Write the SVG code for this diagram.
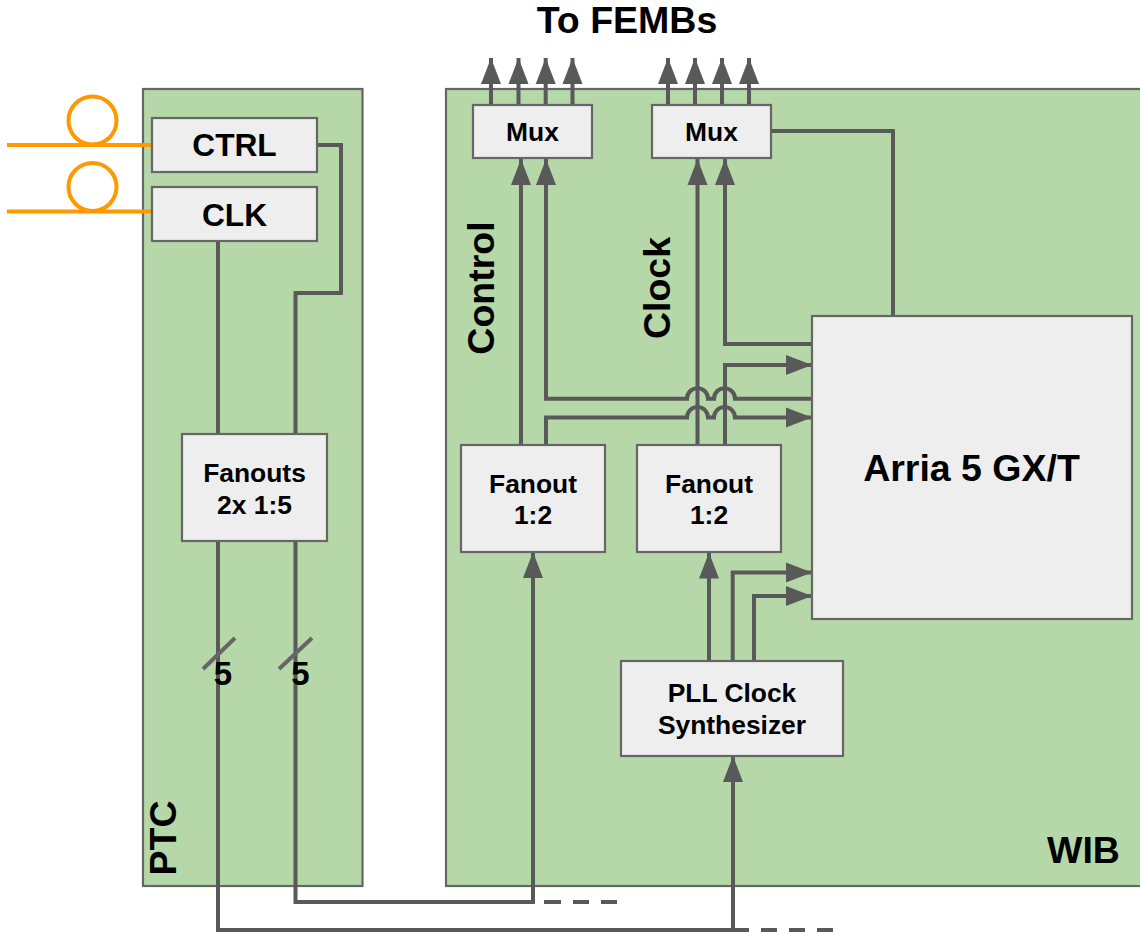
<svg xmlns="http://www.w3.org/2000/svg" width="1140" height="933" viewBox="0 0 1140 933">
<style>
text{font-family:"Liberation Sans",Arial,sans-serif;font-weight:700;fill:#000;text-anchor:middle}
.panel{fill:#b6d7a8;stroke:#666;stroke-width:2.2}
.box{fill:#eee;stroke:#666;stroke-width:2.2}
.w{fill:none;stroke:#595959;stroke-width:4}
.s{fill:none;stroke:#666;stroke-width:4}
.f{fill:none;stroke:#f90;stroke-width:4}
.t26{font-size:26.4px}.t31{font-size:31.7px}.t36{font-size:37.5px}.t33{font-size:33px}
</style>
<defs>
<marker id="a" markerUnits="userSpaceOnUse" markerWidth="28" markerHeight="22" refX="26" refY="11" orient="auto"><path d="M0 1L26 11L0 21Z" fill="#595959"/></marker>
</defs>
<g id="panel-ptc"><rect class="panel" x="143" y="89" width="219.500" height="797"/><text class="t36" transform="translate(176 838) rotate(-90)">PTC</text></g>
<g id="panel-wib"><rect class="panel" x="446" y="89" width="700" height="797"/><text class="t36" x="1083.500" y="863">WIB</text></g>
<text id="title" class="t36" x="627" y="33">To FEMBs</text>
<text id="label-control" class="t36" transform="translate(494 288) rotate(-90)">Control</text>
<text id="label-clock" class="t36" transform="translate(670 288) rotate(-90)">Clock</text>
<g id="connectors">
<path class="f" d="M7 145H152M7 211.500H152"/>
<circle class="f" cx="92.500" cy="120.500" r="24"/>
<circle class="f" cx="92.500" cy="187" r="24"/>
<path class="w" d="M317 145H341V293H295.500V434M218 241V434"/>
<path class="w" d="M218 541V930H733M295.500 541V902H517"/>
<path class="w" marker-end="url(#a)" d="M517 902H533V552"/>
<path class="w" marker-end="url(#a)" d="M733 930V756"/>
<path class="w" d="M733 930H749M761 930H777M789 930H805M817 930H833M544 902H561M573 902H589M601 902H617"/>
<path class="s" d="M203 669L235 638M279 669L312 638"/>
<path class="w" marker-end="url(#a)" d="M491 105V58"/>
<path class="w" marker-end="url(#a)" d="M518.500 105V58"/>
<path class="w" marker-end="url(#a)" d="M545.700 105V58"/>
<path class="w" marker-end="url(#a)" d="M572.500 105V58"/>
<path class="w" marker-end="url(#a)" d="M668 105V58"/>
<path class="w" marker-end="url(#a)" d="M695 105V58"/>
<path class="w" marker-end="url(#a)" d="M722 105V58"/>
<path class="w" marker-end="url(#a)" d="M749 105V58"/>
<path class="w" marker-end="url(#a)" d="M521 445V159"/>
<path class="w" marker-end="url(#a)" d="M697.500 445V159"/>
<path class="w" marker-end="url(#a)" d="M812 344H725V159"/>
<path class="w" d="M771 131H893V316"/>
<path class="w" marker-end="url(#a)" d="M725 445V365H812"/>
<path class="w" marker-end="url(#a)" d="M812 398.700H735a10.500 10.500 0 0 0 -21 0h-6a10.500 10.500 0 0 0 -21 0H546V159"/>
<path class="w" marker-end="url(#a)" d="M546 445V417.500H687a10.500 10.500 0 0 1 21 0h6a10.500 10.500 0 0 1 21 0H812"/>
<path class="w" marker-end="url(#a)" d="M709 661V552.500"/>
<path class="w" marker-end="url(#a)" d="M732.700 661V572.500H812"/>
<path class="w" marker-end="url(#a)" d="M754 661V596H812"/>
</g>
<g id="node-ctrl"><rect class="box" x="152" y="118" width="165" height="54"/><text class="t31" x="234.500" y="156">CTRL</text></g>
<g id="node-clk"><rect class="box" x="152" y="187" width="165" height="54"/><text class="t31" x="234.500" y="226">CLK</text></g>
<g id="node-fanouts"><rect class="box" x="182" y="434" width="145" height="107"/><text class="t26" x="254.500" y="482">Fanouts</text><text class="t26" x="254.500" y="514">2x 1:5</text></g>
<g id="node-mux1"><rect class="box" x="473" y="105" width="119" height="53"/><text class="t26" x="532.500" y="141">Mux</text></g>
<g id="node-mux2"><rect class="box" x="652" y="105" width="119" height="53"/><text class="t26" x="711.500" y="141">Mux</text></g>
<g id="node-fanout1"><rect class="box" x="461" y="445" width="144" height="107"/><text class="t26" x="533" y="492.500">Fanout</text><text class="t26" x="533" y="524">1:2</text></g>
<g id="node-fanout2"><rect class="box" x="637" y="445" width="144" height="107"/><text class="t26" x="709" y="492.500">Fanout</text><text class="t26" x="709" y="524">1:2</text></g>
<g id="node-arria"><rect class="box" x="812" y="316" width="320" height="303"/><text class="t36" x="971.500" y="481">Arria 5 GX/T</text></g>
<g id="node-pll"><rect class="box" x="621" y="661" width="222" height="95"/><text class="t26" x="732" y="702">PLL Clock</text><text class="t26" x="732" y="734">Synthesizer</text></g>
<text id="bus-5a" class="t33" x="223" y="685">5</text>
<text id="bus-5b" class="t33" x="300.500" y="685">5</text>
</svg>
